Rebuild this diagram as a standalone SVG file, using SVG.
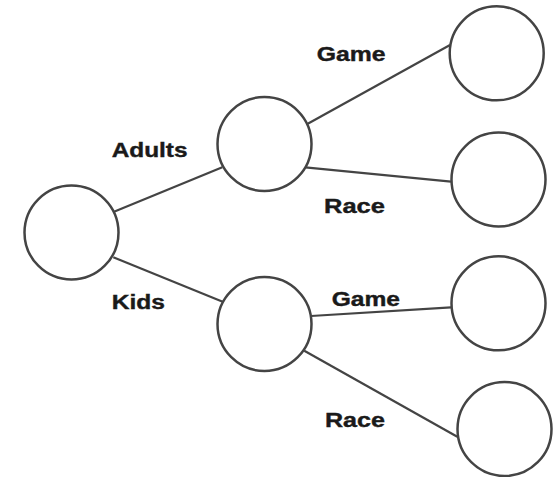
<svg xmlns="http://www.w3.org/2000/svg" width="558" height="477" viewBox="0 0 558 477">
  <style>
    .node { fill: #ffffff; stroke: #444444; stroke-width: 2.5; }
    .edge { stroke: #444444; stroke-width: 2.2; fill: none; }
    .label { font-family: "Liberation Sans", Arial, sans-serif; font-weight: bold; font-size: 20.5px; fill: #1a1a1a; stroke: #1a1a1a; stroke-width: 0.4; }
  </style>
  <rect width="558" height="477" fill="#ffffff"/>
  <!-- connectors -->
  <g id="connectors">
    <line class="edge" x1="114" y1="211.7" x2="222.3" y2="167.3"/>
    <line class="edge" x1="113.3" y1="257.3" x2="222.7" y2="301.7"/>
    <line class="edge" x1="307.3" y1="124" x2="450" y2="45"/>
    <line class="edge" x1="305.3" y1="167.3" x2="451" y2="181.7"/>
    <line class="edge" x1="311" y1="316" x2="451" y2="307.3"/>
    <line class="edge" x1="304.3" y1="350.7" x2="457.3" y2="436.7"/>
  </g>
  <!-- edge labels, widened horizontally -->
  <g id="labels">
    <text class="label" transform="translate(111.7 157.3) scale(1.19 1)">Adults</text>
    <text class="label" transform="translate(111.7 309.3) scale(1.2 1)">Kids</text>
    <text class="label" transform="translate(316.7 61) scale(1.21 1)">Game</text>
    <text class="label" transform="translate(324 212.7) scale(1.245 1)">Race</text>
    <text class="label" transform="translate(331.7 306) scale(1.2 1)">Game</text>
    <text class="label" transform="translate(325 427.3) scale(1.225 1)">Race</text>
  </g>
  <!-- nodes -->
  <g id="root"><circle class="node" cx="71.5" cy="232.5" r="47"/></g>
  <g id="adults"><circle class="node" cx="264.5" cy="144" r="47"/></g>
  <g id="kids"><circle class="node" cx="264.5" cy="324" r="47"/></g>
  <g id="adults-game"><circle class="node" cx="496.7" cy="53.3" r="47"/></g>
  <g id="adults-race"><circle class="node" cx="498.5" cy="179.5" r="47"/></g>
  <g id="kids-game"><circle class="node" cx="498.5" cy="303.3" r="47"/></g>
  <g id="kids-race"><circle class="node" cx="504.5" cy="429" r="47"/></g>
</svg>
